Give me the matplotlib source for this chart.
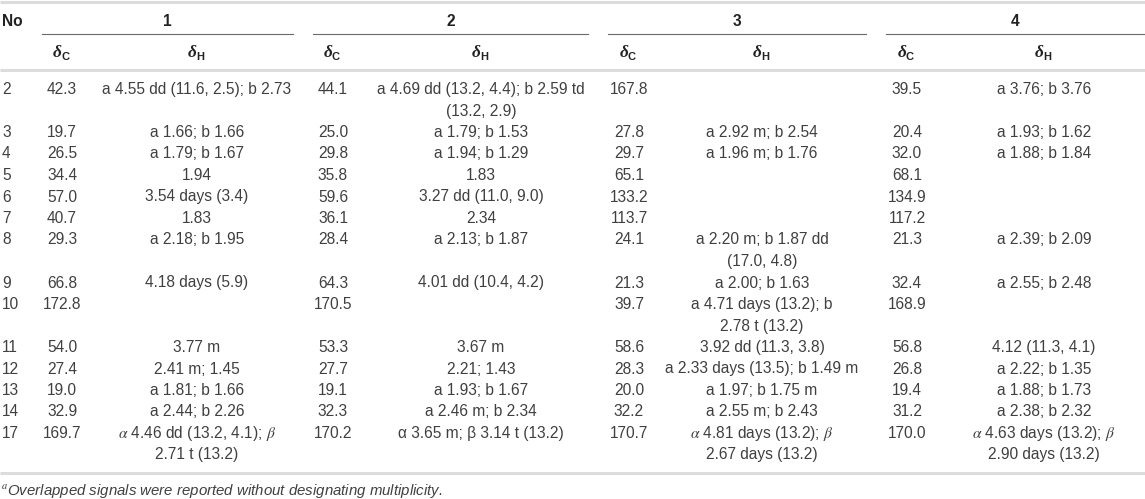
import matplotlib
matplotlib.use("Agg")
import matplotlib.pyplot as plt

plt.rcParams['font.family'] = ['Liberation Sans', 'DejaVu Sans']
plt.rcParams['mathtext.fontset'] = 'stix'

# table content
rows = ['2', '3', '4', '5', '6', '7', '8', '9', '10', '11', '12', '13', '14', '17']
groups = ['1', '2', '3', '4']
c1 = ['42.3', '19.7', '26.5', '34.4', '57.0', '40.7', '29.3', '66.8', '172.8', '54.0', '27.4', '19.0', '32.9', '169.7']
h1 = ['a 4.55 dd (11.6, 2.5); b 2.73', 'a 1.66; b 1.66', 'a 1.79; b 1.67', '1.94', '3.54 days (3.4)', '1.83',
      'a 2.18; b 1.95', '4.18 days (5.9)', '', '3.77 m', '2.41 m; 1.45', 'a 1.81; b 1.66', 'a 2.44; b 2.26',
      '$\\alpha$ 4.46 dd (13.2, 4.1); $\\beta$\n2.71 t (13.2)']
c2 = ['44.1', '25.0', '29.8', '35.8', '59.6', '36.1', '28.4', '64.3', '170.5', '53.3', '27.7', '19.1', '32.3', '170.2']
h2 = ['a 4.69 dd (13.2, 4.4); b 2.59 td\n(13.2, 2.9)', 'a 1.79; b 1.53', 'a 1.94; b 1.29', '1.83',
      '3.27 dd (11.0, 9.0)', '2.34', 'a 2.13; b 1.87', '4.01 dd (10.4, 4.2)', '', '3.67 m', '2.21; 1.43',
      'a 1.93; b 1.67', 'a 2.46 m; b 2.34', 'α 3.65 m; β 3.14 t (13.2)']
c3 = ['167.8', '27.8', '29.7', '65.1', '133.2', '113.7', '24.1', '21.3', '39.7', '58.6', '28.3', '20.0', '32.2', '170.7']
h3 = ['', 'a 2.92 m; b 2.54', 'a 1.96 m; b 1.76', '', '', '', 'a 2.20 m; b 1.87 dd\n(17.0, 4.8)',
      'a 2.00; b 1.63', 'a 4.71 days (13.2); b\n2.78 t (13.2)', '3.92 dd (11.3, 3.8)',
      'a 2.33 days (13.5); b 1.49 m', 'a 1.97; b 1.75 m', 'a 2.55 m; b 2.43',
      '$\\alpha$ 4.81 days (13.2); $\\beta$\n2.67 days (13.2)']
c4 = ['39.5', '20.4', '32.0', '68.1', '134.9', '117.2', '21.3', '32.4', '168.9', '56.8', '26.8', '19.4', '31.2', '170.0']
h4 = ['a 3.76; b 3.76', 'a 1.93; b 1.62', 'a 1.88; b 1.84', '', '', '', 'a 2.39; b 2.09', 'a 2.55; b 2.48', '',
      '4.12 (11.3, 4.1)', 'a 2.22; b 1.35', 'a 1.88; b 1.73', 'a 2.38; b 2.32',
      '$\\alpha$ 4.63 days (13.2); $\\beta$\n2.90 days (13.2)']
footnote = '$^{a}$Overlapped signals were reported without designating multiplicity.'

W, H = 1145, 499
fig = plt.figure(figsize=(W / 100, H / 100), dpi=100)
ax = fig.add_axes([0, 0, 1, 1])
ax.set_xlim(0, W)
ax.set_ylim(H, 0)
ax.axis('off')

txt = '#404040'
fs = 11.2

# column layout (pixels)
spans = [(42, 293), (313, 588), (608, 866), (886, 1144)]
dc_x = [62, 333, 629, 907]
dh_x = [197, 481, 762, 1044]

# rules
for y in (2, 70, 473):
    ax.plot([0, W], [y, y], color='#dcdcdc', lw=2.2, solid_capstyle='butt')
for (a, b) in spans:
    ax.plot([a, b], [34, 34], color='#6a6a6a', lw=0.8)

# headers
ax.text(2, 21.5, 'No', ha='left', va='center', fontsize=fs, fontweight='bold', color='#222')
for g, (a, b) in zip(groups, spans):
    ax.text((a + b) / 2, 21.5, g, ha='center', va='center', fontsize=fs, fontweight='bold', color='#222')


def delta(x, y, sub):
    ax.text(x - 5, y, 'δ', ha='center', va='center', fontsize=12.5, fontweight='bold', fontstyle='italic',
            family='Liberation Serif', color='#222')
    ax.text(x - 1, y + 4, sub, ha='left', va='center', fontsize=8, fontweight='bold', color='#222')


for i in range(4):
    delta(dc_x[i], 53, 'C')
    delta(dh_x[i], 53, 'H')

# body
step = 21.5
y = 89.5
cs = [c1, c2, c3, c4]
hs = [h1, h2, h3, h4]
for r in range(len(rows)):
    ax.text(2, y, rows[r], ha='left', va='center', fontsize=fs, color=txt)
    nlines = 1
    for g in range(4):
        ax.text(dc_x[g], y, cs[g][r], ha='center', va='center', fontsize=fs, color=txt)
        parts = hs[g][r].split('\n')
        nlines = max(nlines, len(parts))
        for k, p in enumerate(parts):
            if p:
                ax.text(dh_x[g], y + k * step, p, ha='center', va='center', fontsize=fs, color=txt)
    y += nlines * step

ax.text(1, 491, footnote, ha='left', va='center', fontsize=10.8, fontstyle='italic', color=txt)

fig.savefig('out.png', dpi=100)
